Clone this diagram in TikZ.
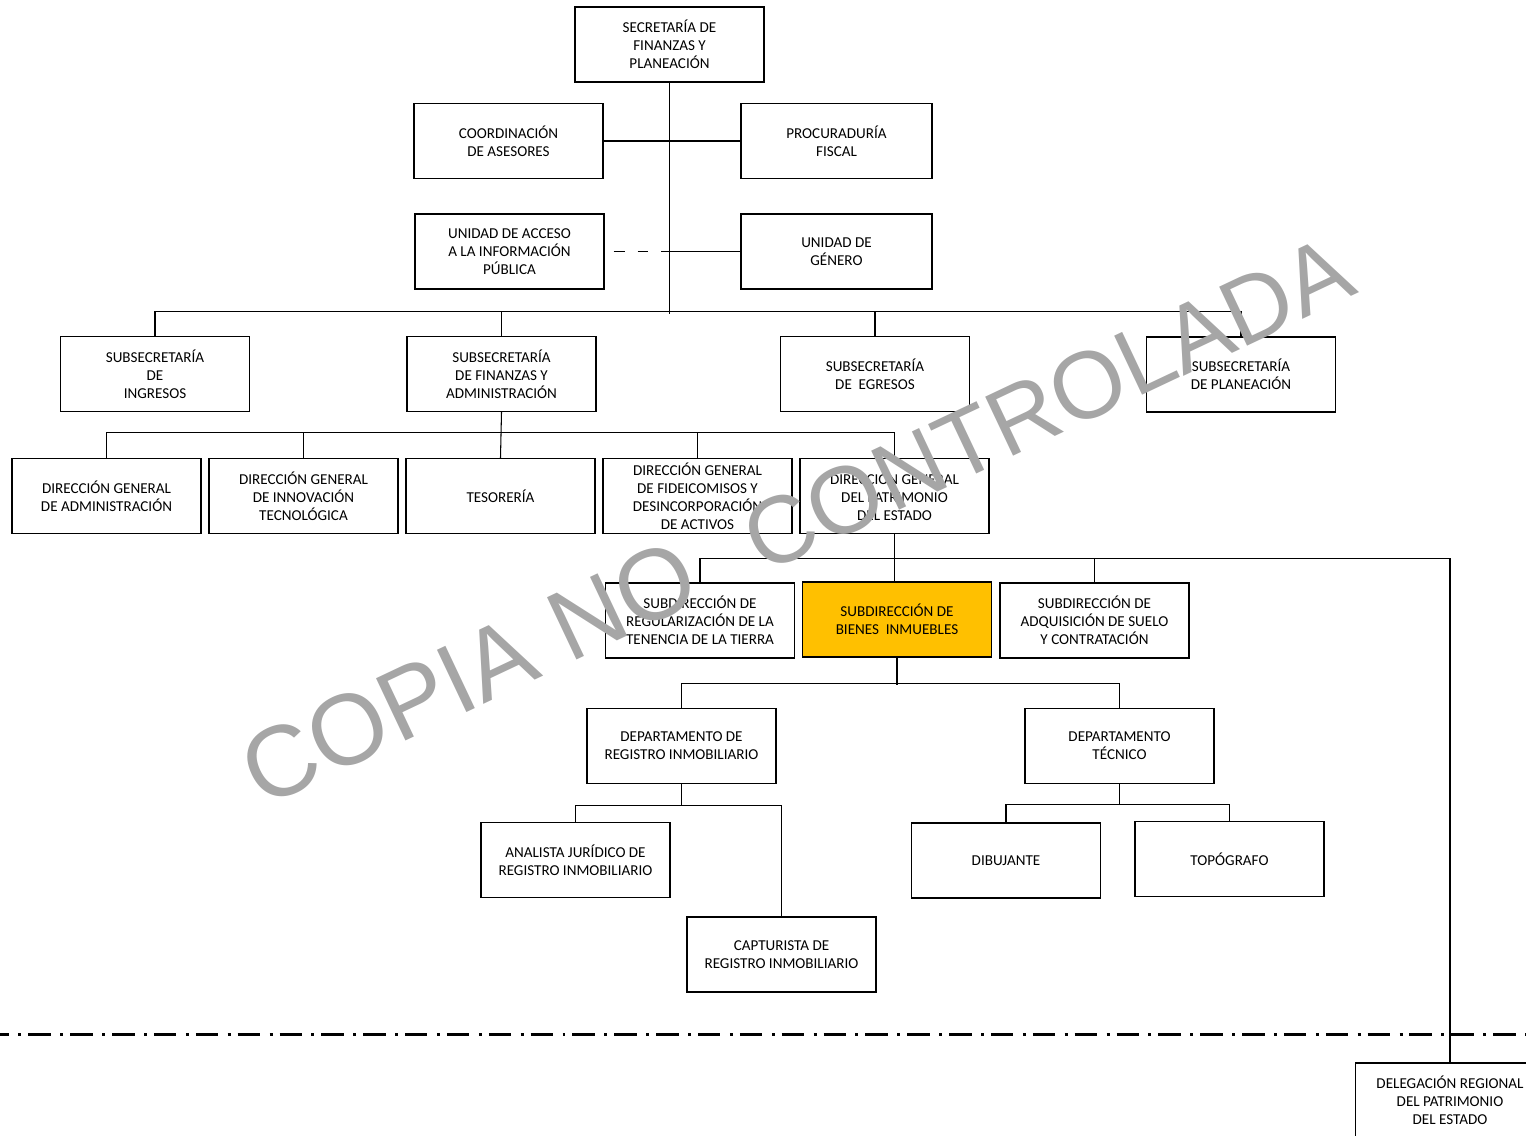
\documentclass[tikz,border=0pt]{standalone}
\usepackage{fontspec}
\setmainfont{Carlito}
\newfontfamily\marcafont{Liberation Sans}
\usetikzlibrary{calc,positioning}
\definecolor{naranja}{RGB}{255,192,0}
\definecolor{marca}{RGB}{166,166,166}

\begin{document}
\begin{tikzpicture}[x=0.02cm, y=-0.02cm,
    unidad/.style={draw, line width=0.8pt, fill=white, minimum width=3.78cm, minimum height=1.5cm,
      inner sep=0pt, align=center, font=\fontsize{8.6}{10.2}\selectfont},
    liga/.style={line width=0.6pt},
    agua/.style={anchor=base west, inner sep=0pt, rotate=25.3, text=marca}]
    \useasboundingbox (0,0) rectangle (1526,1136);
    \clip (0,0) rectangle (1526,1136);

    % titular y staff
    \node[unidad] (sfp) at (669.5,44.5) {SECRETARÍA DE\\FINANZAS Y\\PLANEACIÓN};
    \node[unidad] (ase) at (508.5,141) {COORDINACIÓN\\DE ASESORES};
    \node[unidad, minimum width=3.82cm] (proc) at (836.5,141) {PROCURADURÍA\\FISCAL};
    \node[unidad] (uai) at (509.5,251.5) {UNIDAD DE ACCESO\\A LA INFORMACIÓN\\PÚBLICA};
    \node[unidad, minimum width=3.82cm] (gen) at (836.5,251.5) {UNIDAD DE\\GÉNERO};

    % subsecretarias
    \node[unidad] (singr) at (155,374) {SUBSECRETARÍA\\DE\\INGRESOS};
    \node[unidad] (sfa) at (501.5,374) {SUBSECRETARÍA\\DE FINANZAS Y\\ADMINISTRACIÓN};
    \node[unidad] (segr) at (875,374) {SUBSECRETARÍA\\DE\ \ EGRESOS};
    \node[unidad] (spla) at (1241,374.5) {SUBSECRETARÍA\\DE PLANEACIÓN};

    % direcciones generales
    \node[unidad] (dgadm) at (106.5,496) {DIRECCIÓN GENERAL\\DE ADMINISTRACIÓN};
    \node[unidad] (dginn) at (303.5,496) {DIRECCIÓN GENERAL\\DE INNOVACIÓN\\TECNOLÓGICA};
    \node[unidad] (tes) at (500.5,496) {TESORERÍA};
    \node[unidad] (dgfid) at (697.5,496) {DIRECCIÓN GENERAL\\DE FIDEICOMISOS Y\\DESINCORPORACIÓN\\DE ACTIVOS};
    \node[unidad] (dgpat) at (894.5,496) {DIRECCIÓN GENERAL\\DEL PATRIMONIO\\DEL ESTADO};

    % subdirecciones
    \node[unidad] (sreg) at (700,620.5) {SUBDIRECCIÓN DE\\REGULARIZACIÓN DE LA\\TENENCIA DE LA TIERRA};
    \node[unidad, fill=naranja] (sbi) at (897,619.5) {SUBDIRECCIÓN DE\\BIENES\ \ INMUEBLES};
    \node[unidad] (sads) at (1094.5,620.5) {SUBDIRECCIÓN DE\\ADQUISICIÓN DE SUELO\\Y CONTRATACIÓN};

    % departamentos y personal
    \node[unidad] (dreg) at (681.5,746) {DEPARTAMENTO DE\\REGISTRO INMOBILIARIO};
    \node[unidad] (dtec) at (1119.5,746) {DEPARTAMENTO\\TÉCNICO};
    \node[unidad] (anal) at (575.5,860) {ANALISTA JURÍDICO DE\\REGISTRO INMOBILIARIO};
    \node[unidad] (capt) at (781.5,954.5) {CAPTURISTA DE\\REGISTRO INMOBILIARIO};
    \node[unidad] (dib) at (1006,860.5) {DIBUJANTE};
    \node[unidad] (topo) at (1229.5,859) {TOPÓGRAFO};
    \node[unidad] (dele) at (1450,1100.5) {DELEGACIÓN REGIONAL\\DEL PATRIMONIO\\DEL ESTADO};

    % lineas de mando
    \draw[liga] (sfp.south) -- ++(0,231) coordinate (b1);
    \draw[liga] (ase.east) -- (proc.west);
    \draw[liga, dash pattern=on 6.2pt off 7.4pt, dash phase=8.5pt] (uai.east) -- (uai.east -| b1);
    \draw[liga] (uai.east -| b1) -- (gen.west);
    \draw[liga] (singr.north) -- ++(0,-24) -| (spla.north);
    \draw[liga] (sfa.north) -- ++(0,-24);
    \draw[liga] (segr.north) -- ++(0,-24);

    \draw[liga] (sfa.south) -- (tes.north);
    \draw[liga] (dgadm.north) -- ++(0,-25) -| (dgpat.north);
    \draw[liga] (dginn.north) -- ++(0,-25);
    \draw[liga] (dgfid.north) -- ++(0,-25);

    \draw[liga] (dgpat.south) -- (dgpat.south |- sbi.north);
    \draw[liga] (sreg.north) -- ++(0,-24) -| (dele.north);
    \draw[liga] (sads.north) -- ++(0,-24);

    \draw[liga] (sbi.south) -- ++(0,27);
    \draw[liga] (dreg.north) -- ++(0,-24) -| (dtec.north);

    \draw[liga] (dreg.south) -- ++(0,22);
    \draw[liga] (anal.north) -- ++(0,-16) -| (capt.north);
    \draw[liga] (dtec.south) -- ++(0,21);
    \draw[liga] (dib.north) -- ++(0,-18) -| (topo.north);

    % limite de oficinas centrales
    \draw[line width=1.7pt, dash pattern=on 12.76pt off 5.39pt on 1.7pt off 3.97pt, dash phase=7.65pt]
      (0,1034) -- (1526,1034);

    % marca de agua
    \node[agua, font=\marcafont\fontsize{57}{57}\selectfont] (marca1) at (262,809) {COPIA NO};
    \node[agua, font=\marcafont\fontsize{54}{54}\selectfont] (marca2) at (763.5,574.6) {CONTROLADA};
\end{tikzpicture}
\end{document}
